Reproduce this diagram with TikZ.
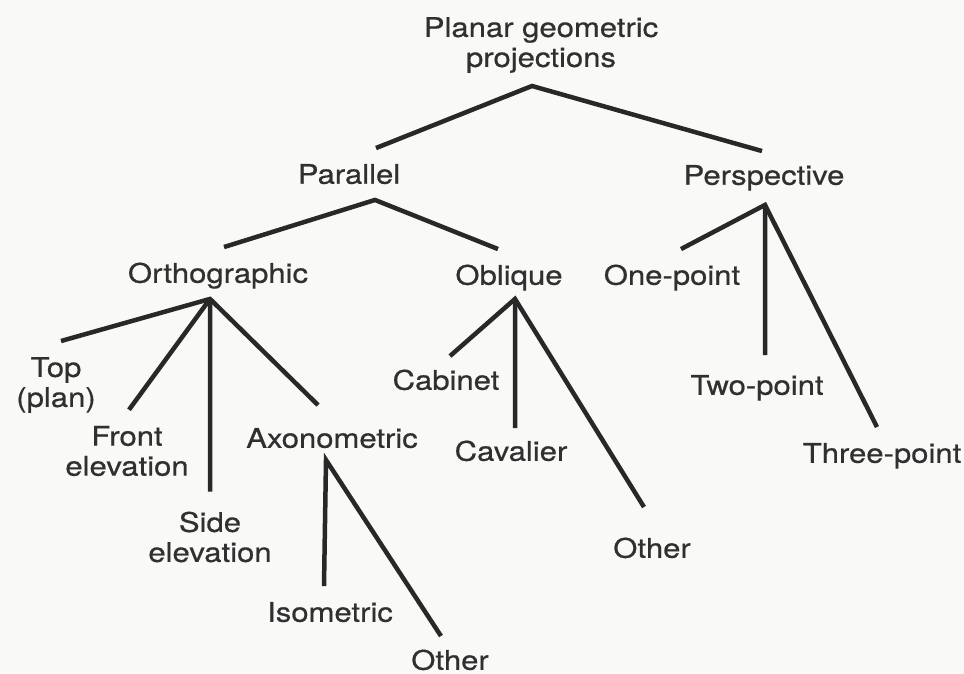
\documentclass[tikz,border=0pt]{standalone}
\usepackage{fontspec}
\setmainfont[FakeStretch=1.15,FakeBold=0.6]{TeX Gyre Heros}
\usepackage{xcolor}
\definecolor{inkgray}{RGB}{48,48,48}
\definecolor{linegray}{RGB}{40,40,40}
\definecolor{paper}{RGB}{249,249,247}
\usetikzlibrary{positioning}

\begin{document}
\begin{tikzpicture}[x=1bp, y=-1bp,
  lbl/.style={font=\fontsize{27bp}{30bp}\selectfont, text=inkgray,
              inner xsep=0pt, inner ysep=16bp, align=center},
  oneline/.style={lbl, text height=19.5bp, text depth=0pt},
  branch/.style={linegray, line width=4.5bp, line join=miter}]

\useasboundingbox[fill=paper] (0,0) rectangle (964,674);

% === Root and first level ===
\node[lbl] (root) at (541,45) {Planar geometric\\projections};
\node[oneline] (par) at (349,174) {Parallel};
\node[oneline] (persp) at (764,175) {Perspective};

\draw[branch] ([xshift=27bp]par.north) -- ([xshift=-9bp,yshift=3bp]root.south)
  -- ([xshift=-2bp,yshift=-2bp]persp.north);

% === Parallel: Orthographic / Oblique ===
\node[oneline] (orth) at (218,273) {Orthographic};
\node[oneline] (obl) at (509,275) {Oblique};

\draw[branch] ([xshift=6bp]orth.north) -- ([xshift=26bp]par.south)
  -- ([xshift=-11bp]obl.north);

% === Perspective: one, two, three point ===
\node[oneline] (onept) at (672,275) {One-point};
\node[oneline] (twopt) at (757,385) {Two-point};
\node[oneline] (threept) at (882,453) {Three-point};

\draw[branch] ([xshift=9bp]onept.north) -- ([xshift=1bp,yshift=-4bp]persp.south)
  -- ([xshift=-5bp]threept.north);
\draw[branch] ([xshift=1bp,yshift=-4bp]persp.south) -- ([xshift=8bp,yshift=4bp]twopt.north);

% === Orthographic views ===
\node[lbl] (top) at (56,385) {Top\\(plan)};
\node[lbl] (front) at (127,451) {Front\\elevation};
\node[lbl] (side) at (210,537) {Side\\elevation};
\node[oneline] (axo) at (332,438) {Axonometric};

\draw[branch] ([xshift=5bp]top.north) -- ([xshift=-8bp]orth.south)
  -- ([xshift=-14bp,yshift=7bp]axo.north);
\draw[branch] ([xshift=-8bp]orth.south) -- ([xshift=2bp]front.north);
\draw[branch] ([xshift=-8bp]orth.south) -- ([yshift=4bp]side.north);

% === Axonometric ===
\node[oneline] (iso) at (330,612) {Isometric};
\node[oneline] (axoother) at (450,660) {Other};

\draw[branch] ([xshift=-6bp]iso.north) -- ([xshift=-6bp,yshift=4bp]axo.south)
  -- ([xshift=-9bp,yshift=-2bp]axoother.north);

% === Oblique ===
\node[oneline] (cab) at (446,380) {Cabinet};
\node[oneline] (cav) at (511,451) {Cavalier};
\node[oneline] (oblother) at (652,548) {Other};

\draw[branch] ([xshift=4bp,yshift=-2bp]cab.north) -- ([xshift=6bp,yshift=2bp]obl.south)
  -- ([xshift=-8bp,yshift=15bp]oblother.north);
\draw[branch] ([xshift=6bp,yshift=2bp]obl.south) -- ([xshift=4bp,yshift=-3bp]cav.north);

\end{tikzpicture}
\end{document}
